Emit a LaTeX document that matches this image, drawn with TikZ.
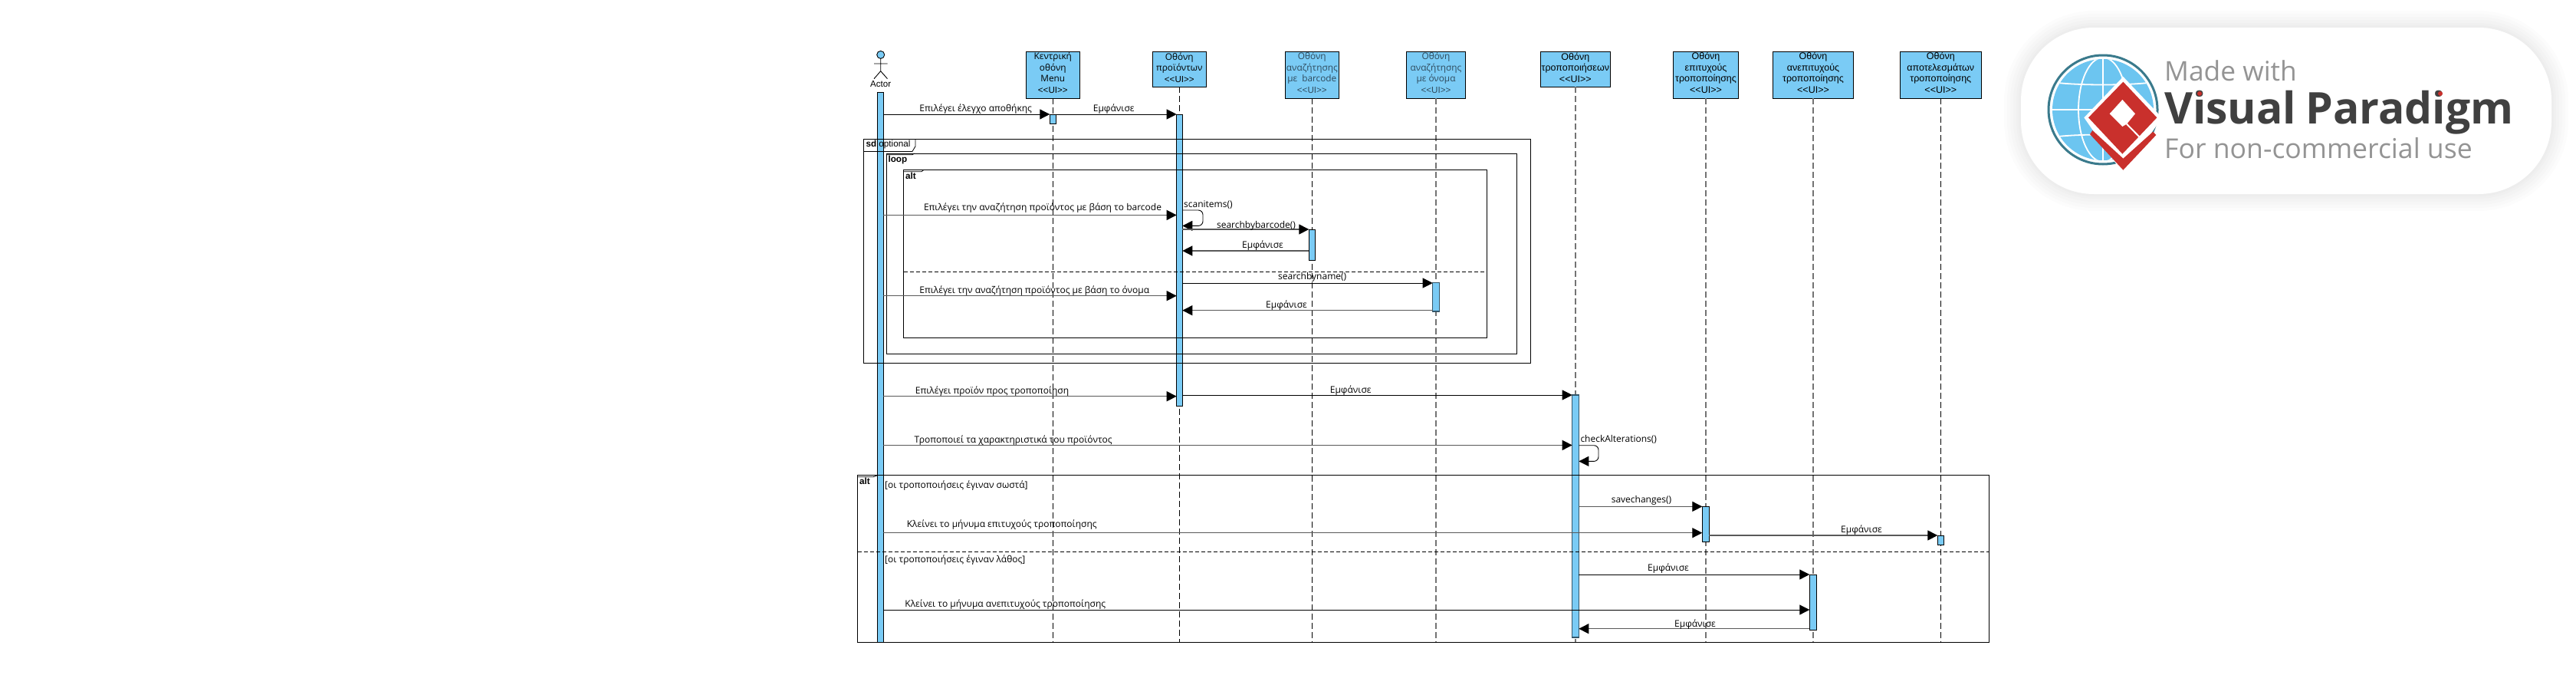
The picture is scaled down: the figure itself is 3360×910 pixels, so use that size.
\documentclass[tikz,border=0pt]{standalone}
\usepackage{fontspec}
\setmainfont{Open Sans}
\newfontfamily\arialf{Liberation Sans}
\usetikzlibrary{arrows.meta}
\definecolor{sky}{HTML}{7ACBF5}
\definecolor{slate}{HTML}{2F4A5C}
\definecolor{barline}{HTML}{34566A}
\definecolor{globeblue}{HTML}{6CC5F0}
\definecolor{globering}{HTML}{3A7A8C}
\definecolor{vpred}{HTML}{C9302C}
\tikzset{
  x=1pt,y=-1pt,
  hbox/.style={draw=black,line width=1pt,fill=sky,inner sep=0pt,outer sep=0pt},
  htxta/.style={inner sep=0pt,align=center,font=\fontsize{11.8}{14.6}\selectfont},
  htxtb/.style={inner sep=0pt,align=center,text=slate,font=\fontsize{11.8}{14.6}\selectfont},
  htxtc/.style={inner sep=0pt,align=center,font=\arialf\fontsize{12.5}{14.6}\selectfont},
  life/.style={line width=.9pt,dash pattern=on 8pt off 4pt,draw=black},
  lifeg/.style={line width=1.5pt,dash pattern=on 8pt off 4pt,draw=black!55},
  barn/.style={draw=black,line width=.8pt,fill=sky,inner sep=0pt,outer sep=0pt},
  bart/.style={draw=barline,line width=1.5pt,fill=sky,inner sep=0pt,outer sep=0pt},
  msg/.style={draw=black,line width=.9pt,-{Triangle[length=13pt,width=13pt]}},
  msgs/.style={draw=black!65,line width=1.3pt,-{Triangle[length=13pt,width=13pt,color=black]}},
  lab/.style={inner sep=0pt,yshift=-1pt,font=\fontsize{12}{14}\selectfont},
  ftitle/.style={inner sep=0pt,anchor=west,font=\arialf\fontsize{11.7}{14}\selectfont},
  frm/.style={draw=black,line width=.9pt,inner sep=0pt,outer sep=0pt},
  dsh/.style={draw=black,line width=.8pt,dash pattern=on 5pt off 3pt},
  tabl/.style={draw=black,line width=.8pt},
}
% rectangle node from corner coordinates: style, name, x1,y1,x2,y2
\newcommand\rnode[6]{\node[#1,minimum width={(#5-#3)*1pt},minimum height={(#6-#4)*1pt}] (#2) at ({(#3+#5)/2},{(#4+#6)/2}) {};}
\newcommand\mg[4][msg]{\draw[#1] (#2 |- 0,#4) -- (#3 |- 0,#4);}
\newcommand\uitag{{\fontsize{11.6}{14}\selectfont\arialf <{}<UI>{}>}}
\begin{document}
\begin{tikzpicture}
\useasboundingbox[fill=white] (0,0) rectangle (3360,910);
\begin{scope}[yshift=-0.7pt]

% headers
\rnode{hbox}{hA}{1338.3}{66.3}{1408.3}{127.3}
\rnode{hbox}{hB}{1503.3}{66.3}{1573.3}{112.3}
\rnode{hbox}{hC}{1676.3}{66.3}{1746.3}{127.3}
\rnode{hbox}{hD}{1834.3}{66.3}{1911.7}{127.3}
\rnode{hbox}{hE}{2009.3}{66.3}{2100.3}{112.3}
\rnode{hbox}{hF}{2182.3}{66.3}{2267.7}{127.3}
\rnode{hbox}{hG}{2312.3}{66.3}{2417.7}{127.3}
\rnode{hbox}{hH}{2478.3}{66.3}{2584.3}{127.3}
\node[htxta,yshift=2.6pt] (tA) at (hA.center) {Κεντρική\\οθόνη\\Menu\\\uitag};
\node[htxta,yshift=2pt] (tB) at (hB.center) {Οθόνη\\προϊόντων\\\uitag};
\node[htxtb,yshift=2.6pt] (tC) at (hC.center) {Οθόνη\\αναζήτησης\\με \ barcode\\\uitag};
\node[htxtb,yshift=2.6pt] (tD) at (hD.center) {Οθόνη\\αναζήτησης\\με όνομα\\\uitag};
\node[htxtc,yshift=2pt] (tE) at (hE.center) {Οθόνη\\τροποποιήσεων\\<{}<UI>{}>};
\node[htxtc,yshift=2.6pt] (tF) at (hF.center) {Οθόνη\\επιτυχούς\\τροποποίησης\\<{}<UI>{}>};
\node[htxtc,yshift=2.6pt] (tG) at (hG.center) {Οθόνη\\ανεπιτυχούς\\τροποποίησης\\<{}<UI>{}>};
\node[htxtc,yshift=2.6pt] (tH) at (hH.center) {Οθόνη\\αποτελεσμάτων\\τροποποίησης\\<{}<UI>{}>};

% lifelines
\coordinate (eA) at (hA.south |- 0,836.5);
\coordinate (eB) at (hB.south |- 0,836.5);
\coordinate (eC) at (hC.south |- 0,836.5);
\coordinate (eD) at (hD.south |- 0,836.5);
\coordinate (eE) at (hE.south |- 0,836.5);
\coordinate (eF) at (hF.south |- 0,836.5);
\coordinate (eG) at (hG.south |- 0,836.5);
\coordinate (eH) at (hH.south |- 0,836.5);
\draw[life] (hA.south) -- (eA);
\draw[life] (hB.south) -- (eB);
\draw[life] (hC.south) -- (eC);
\draw[lifeg] (hD.south) -- (eD);
\draw[lifeg] (hE.south) -- (eE);
\draw[lifeg] (hF.south) -- (eF);
\draw[lifeg] (hG.south) -- (eG);
\draw[life] (hH.south) -- (eH);

% actor
\draw[draw=black,line width=.9pt,fill=sky] (1148.7,70.7) circle (5);
\draw[line width=.9pt] (1148.7,75.7) -- (1148.7,92) (1140,82.3) -- (1157.5,82.3) (1140,102) -- (1148.7,92) -- (1157.5,102);
\node[inner sep=0pt,font=\arialf\fontsize{11.6}{14}\selectfont] (tActor) at (1148.7,109) {Actor};

% activation bars
\rnode{barn}{aX}{1144.7}{119.3}{1152.3}{836.5}
\rnode{barn}{aA}{1369.3}{148.3}{1377.3}{160.3}
\rnode{barn}{aB}{1534.7}{148.3}{1542.3}{528.3}
\rnode{barn}{aC}{1707.3}{298.3}{1715.3}{338.3}
\rnode{bart}{aD}{1868.7}{367.7}{1877.3}{405.3}
\rnode{bart}{aE}{2050.7}{514.3}{2059.3}{830.3}
\rnode{barn}{aF}{2220.3}{659.3}{2229.3}{705.3}
\rnode{barn}{aG}{2360.3}{748.3}{2369.3}{820.3}
\rnode{barn}{aH}{2527.3}{697.3}{2535.3}{709.3}

% frames
\rnode{frm}{fSd}{1126.7}{180.3}{1996.3}{473}
\rnode{frm}{fLoop}{1156.7}{199.3}{1978.3}{460.3}
\rnode{frm}{fAlt}{1178.7}{220.7}{1939.3}{439.3}
\rnode{frm}{fBig}{1118.7}{618.3}{2594.7}{836.3}
\draw[tabl] (fSd.west |- 0,196.7) -- (1190,196.7) -- (1194,190) -- (1194,180.3);
\draw[tabl] (fLoop.west |- 0,201) -- (1190,201) -- (1192.7,199.3);
\draw[tabl] (fAlt.west |- 0,223) -- (1202,223) -- (1205,220.7);
\draw[tabl] (fBig.west |- 0,621) -- (1139,621) -- (1144.7,619);
\draw[dsh] (fAlt.west |- 0,353.3) -- (fAlt.east |- 0,353.3);
\draw[dsh] (fBig.west |- 0,718.3) -- (fBig.east |- 0,718.3);
\node[ftitle] (tSd) at (1129.3,187.7) {\textbf{sd} optional};
\node[ftitle] (tLoop) at (1158.3,207.3) {\textbf{loop}};
\node[ftitle] (tAlt) at (1181,228.3) {\textbf{alt}};
\node[ftitle] (tBig) at (1121,626.3) {\textbf{alt}};
\node[lab,anchor=west] (g1) at (1154,631.7) {[οι τροποποιήσεις έγιναν σωστά]};
\node[lab,anchor=west] (g2) at (1154,728.7) {[οι τροποποιήσεις έγιναν λάθος]};

% messages
\mg{aX.east}{aA.west}{148.3}
\mg{aA.east}{aB.west}{148.3}
\mg[msgs]{aX.east}{aB.west}{279.7}
\draw[msg,rounded corners=6pt] (aB.east |- 0,273.3) -- (1569,273.3) -- (1569,293.7) -- (aB.east |- 0,293.7);
\mg[msgs]{aB.east}{aC.west}{298.3}
\mg[msgs]{aC.west}{aB.east}{326.3}
\mg{aB.east}{aD.west}{368.3}
\mg[msgs]{aX.east}{aB.west}{385}
\mg[msgs]{aD.west}{aB.east}{404}
\mg[msgs]{aX.east}{aB.west}{516}
\mg{aB.east}{aE.west}{514.3}
\mg[msgs]{aX.east}{aE.west}{579.7}
\draw[msg,rounded corners=6pt] (aE.east |- 0,580) -- (2085,580) -- (2085,600.7) -- (aE.east |- 0,600.7);
\mg[msgs]{aE.east}{aF.west}{659.7}
\mg[msgs]{aX.east}{aF.west}{694}
\mg[msgs]{aF.east}{aH.west}{697.3}
\mg{aE.east}{aG.west}{748.3}
\mg{aX.east}{aG.west}{794.3}
\mg[msgs]{aG.west}{aE.east}{819}

% labels
\node[lab] (l1) at (1272.7,140) {Επιλέγει έλεγχο αποθήκης};
\node[lab] (l2) at (1452.7,140) {Εμφάνισε};
\node[lab] (l3) at (1360,269) {Επιλέγει την αναζήτηση προϊόντος με βάση το barcode};
\node[lab,anchor=west] (l4) at (1544,265) {scanitems()};
\node[lab] (l5) at (1638.5,293) {searchbybarcode()};
\node[lab] (l6) at (1647,318) {Εμφάνισε};
\node[lab] (l7) at (1711.7,359.7) {searchbyname()};
\node[lab] (l8) at (1678,396) {Εμφάνισε};
\node[lab] (l9) at (1349.3,377.7) {Επιλέγει την αναζήτηση προϊόντος με βάση το όνομα};
\node[lab] (l10) at (1294,508) {Επιλέγει προϊόν προς τροποποίηση};
\node[lab] (l11) at (1761.7,507.7) {Εμφάνισε};
\node[lab] (l12) at (1321.7,572.7) {Τροποποιεί τα χαρακτηριστικά του προϊόντος};
\node[lab,anchor=west] (l13) at (2061.3,570.7) {checkAlterations()};
\node[lab] (l14) at (2141,651) {savechanges()};
\node[lab] (l15) at (1306.7,682.7) {Κλείνει το μήνυμα επιτυχούς τροποποίησης};
\node[lab] (l16) at (2428,689) {Εμφάνισε};
\node[lab] (l17) at (2176,739.7) {Εμφάνισε};
\node[lab] (l18) at (1311.3,786) {Κλείνει το μήνυμα ανεπιτυχούς τροποποίησης};
\node[lab] (l19) at (2211,812) {Εμφάνισε};
\end{scope}

% watermark badge
\foreach \w in {44,36,28,20,12,6}
  \draw[line width=\w pt,black,opacity=.012,rounded corners=95pt] (2636,36) rectangle (3328,253);
\fill[white,rounded corners=95pt] (2636,36) rectangle (3328,253);
\begin{scope}
  \clip (2743,143) circle (66);
  \fill[globeblue] (2670,70) rectangle (2816,216);
  \draw[white,line width=1.8pt] (2743,70) -- (2743,216)
    (2743,143) ellipse [x radius=32,y radius=68]
    (2670,143) -- (2816,143)
    (2670,106) .. controls (2700,112) and (2786,112) .. (2816,106)
    (2670,180) .. controls (2700,174) and (2786,174) .. (2816,180);
\end{scope}
\draw[draw=globering,line width=3pt] (2743,143) circle (71);
\begin{scope}[shift={(2650,50)},x=0.33333pt,y=-0.33333pt]
  \fill[white] (358,150) -- (510,310) -- (358,530) -- (205,310) -- cycle;
  \fill[vpred] (238,360) -- (358,470) -- (475,365) -- (487,378) -- (358,515) -- (228,375) -- cycle;
  \fill[vpred] (358,170) -- (490,310) -- (355,452) -- (222,310) -- cycle;
  \fill[white] (355,240) -- (405,295) -- (372,335) -- (355,345) -- (305,295) -- cycle;
  \draw[white,line width=2pt] (372,335) -- (422,386);
\end{scope}
\node[inner sep=0pt,anchor=base west,text=black!42,font=\fontsize{35.3}{38}\selectfont] (vp1) at (2823,105) {Made with};
\node[inner sep=0pt,anchor=base west,text=black!75,font=\bfseries\fontsize{57}{60}\selectfont] (vp2) at (2823,161.7) {Visual\hspace{12pt}Paradigm};
\node[inner sep=0pt,anchor=base west,text=black!42,font=\fontsize{35.6}{38}\selectfont] (vp3) at (2823,206.7) {For non-commercial use};
\fill[vpred] (2869,122) circle (3) (3183,122) circle (3);
\end{tikzpicture}
\end{document}
